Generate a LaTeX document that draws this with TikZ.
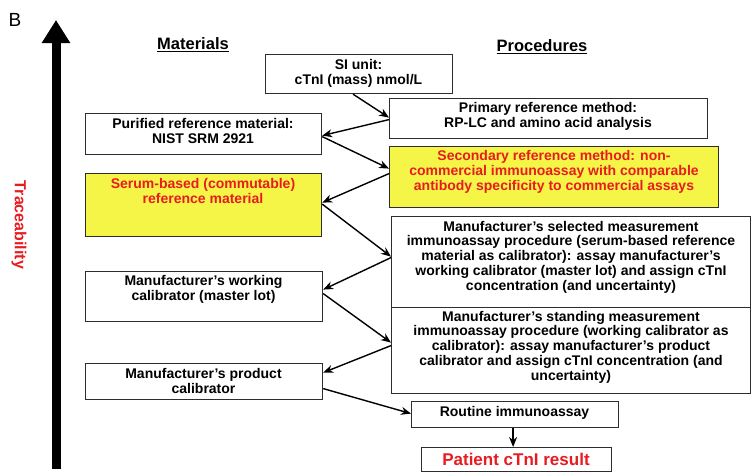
\documentclass[tikz,border=0pt]{standalone}
\usepackage{fontspec}
\setmainfont{Liberation Sans}
\usetikzlibrary{arrows.meta,calc}
\definecolor{tred}{RGB}{232,28,32}
\definecolor{tyel}{RGB}{245,245,72}
\definecolor{boxc}{RGB}{45,45,45}
\begin{document}
\begin{tikzpicture}[x=1pt,y=-1pt,
  box/.style={draw=boxc, line width=1.2pt, anchor=north west, inner sep=0pt, fill=white},
  ybox/.style={box, fill=tyel},
  txt/.style={font=\bfseries\fontsize{14}{14.8}\selectfont, align=center, inner sep=0pt},
  rtxt/.style={txt, text=tred},
  head/.style={font=\bfseries\fontsize{16.5}{18}\selectfont, inner sep=0pt},
  conn/.style={-{Stealth[length=10pt,width=8pt]}, line width=1.4pt}
]
\useasboundingbox[fill=white] (0,0) rectangle (753,472);

% traceability arrow
\coordinate (tbot) at (56,469);
\coordinate (ttop) at (56,20);
\draw[line width=9pt, -{Triangle[length=23pt,width=27pt]}] (tbot) -- (ttop);
\node[font=\fontsize{19}{21}\selectfont, inner sep=0pt] (lblB) at (15,19.5) {B};
\node[font=\bfseries\fontsize{16}{18}\selectfont, text=tred, rotate=-90, inner sep=0pt] (trace) at (19,225) {Traceability};

% headings
\node[head] (mat) at (193,45) {\underline{Materials}};
\node[head] (proc) at (542,47) {\underline{Procedures}};

% boxes
\node[box, minimum width=187pt, minimum height=39pt] (si) at (265,54) {};
\node[txt] (sit) at (358.5,73) {SI unit:\\cTnI (mass) nmol/L};

\node[box, minimum width=318pt, minimum height=40pt] (prim) at (389,98) {};
\node[txt] (primt) at (548,116) {Primary reference method:\\RP-LC and amino acid analysis};

\node[box, minimum width=236pt, minimum height=41pt] (pur) at (85,113) {};
\node[txt] (purt) at (203,131) {Purified reference material:\\NIST SRM 2921};

\node[ybox, minimum width=329pt, minimum height=61pt] (sec) at (389,146) {};
\node[rtxt] (sect) at (554,172) {Secondary reference method: non-\\commercial immunoassay with comparable\\antibody specificity to commercial assays};

\node[ybox, minimum width=236pt, minimum height=63pt] (ser) at (85,173) {};
\node[rtxt] (sert) at (203,191) {Serum-based (commutable)\\reference material};

\node[box, minimum width=359pt, minimum height=91pt] (sel) at (391,216) {};
\node[txt] (selt) at (571,257) {Manufacturer’s selected measurement\\immunoassay procedure (serum-based reference\\material as calibrator): assay manufacturer’s\\working calibrator (master lot) and assign cTnI\\concentration (and uncertainty)};

\node[box, minimum width=237pt, minimum height=50pt] (work) at (85,271) {};
\node[txt] (workt) at (203.5,289) {Manufacturer’s working\\calibrator (master lot)};

\node[box, minimum width=359pt, minimum height=86pt] (std) at (391,307) {};
\node[txt] (stdt) at (571,347) {Manufacturer’s standing measurement\\immunoassay procedure (working calibrator as\\calibrator): assay manufacturer’s product\\calibrator and assign cTnI concentration (and\\uncertainty)};

\node[box, minimum width=237pt, minimum height=36pt] (prod) at (85,363) {};
\node[txt] (prodt) at (203.5,381) {Manufacturer’s product\\calibrator};

\node[box, minimum width=207pt, minimum height=26pt] (rout) at (411,401) {};
\node[txt] (routt) at (514.5,413) {Routine immunoassay};

\node[box, minimum width=190pt, minimum height=24pt] (pat) at (421,447) {};
\node[txt, text=tred, font=\bfseries\fontsize{17}{19}\selectfont] (patt) at (516,459) {Patient cTnI result};

% connectors
\draw[conn] ($(si.south)+(-6,0)$) -- ($(prim.west)+(0,-1)$);
\draw[conn] ($(prim.west)+(0,1)$) -- ($(pur.east)+(0,1.5)$);
\draw[conn] ($(pur.east)+(0,2.5)$) -- ($(sec.west)+(0,-8.5)$);
\draw[conn] ($(sec.west)+(0,-3.5)$) -- ($(ser.east)+(0,-2.5)$);
\draw[conn] ($(ser.east)+(0,-1)$) -- ($(sel.west)+(0,-5.5)$);
\draw[conn] ($(sel.west)+(0,-4.5)$) -- ($(work.east)+(0,-7)$);
\draw[conn] ($(work.east)+(0,-3)$) -- ($(std.west)+(0,-8)$);
\draw[conn] ($(std.west)+(0,-5)$) -- ($(prod.east)+(0,-9)$);
\draw[conn] ($(prod.east)+(0,7)$) -- ($(rout.west)+(0,-1)$);
\coordinate (rs) at ($(rout.south)+(-2,0)$);
\draw[conn] (rs) -- (rs |- pat.north);
\end{tikzpicture}
\end{document}
